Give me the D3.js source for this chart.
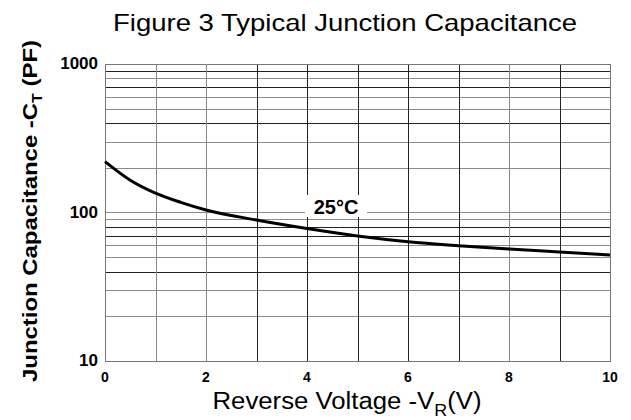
<!DOCTYPE html>
<html>
<head>
<meta charset="utf-8">
<script src="https://cdn.jsdelivr.net/npm/d3@7"></script>
<style>
  body { margin: 0; background: #fff; }
  text { font-family: "Liberation Sans", Arial, sans-serif; }
</style>
</head>
<body>
<div id="chart"></div>
<script>
// reverse voltage (V) and junction capacitance (pF)
const voltage = [0, 0.5, 1, 1.5, 2, 3, 4, 5, 6, 7, 8, 9, 10];
const capacitance = [220, 165, 135, 117, 104, 89, 78, 69.5, 63.6, 59.8, 56.8, 54.2, 51.7];
const xTicks = [0, 2, 4, 6, 8, 10];
const xGrid = [1, 2, 3, 4, 5, 6, 7, 8, 9];
const yTickLabels = [10, 100, 1000];
const yGrid = [20, 30, 40, 50, 60, 70, 80, 90, 100, 200, 300, 400, 500, 600, 700, 800, 900];

const width = 631;
const height = 420;
const margin = { top: 64, right: 21, bottom: 59, left: 105 };

const svg = d3.select("#chart")
    .append("svg")
    .attr("width", width)
    .attr("height", height);

const x = d3.scaleLinear()
    .domain([0, 10])
    .range([margin.left, width - margin.right]);

const y = d3.scaleLog()
    .domain([10, 1000])
    .range([height - margin.bottom, margin.top]);

// horizontal grid, some lines darker like the scanned original
svg.append("g")
    .selectAll("line")
    .data(yGrid)
    .enter()
    .append("line")
    .attr("x1", x(0))
    .attr("x2", x(10))
    .attr("y1", d => Math.round(y(d)) + 0.5)
    .attr("y2", d => Math.round(y(d)) + 0.5)
    .attr("stroke", d => [40, 70, 80, 400, 700, 900].includes(d) ? "#222" : "#8a8a8a")
    .attr("stroke-width", 1);

// vertical grid
svg.append("g")
    .selectAll("line")
    .data(xGrid)
    .enter()
    .append("line")
    .attr("y1", y(10))
    .attr("y2", y(1000))
    .attr("x1", d => Math.round(x(d)) + 0.5)
    .attr("x2", d => Math.round(x(d)) + 0.5)
    .attr("stroke", d => [1, 2, 8].includes(d) ? "#888" : "#222")
    .attr("stroke-width", 1);

// frame
svg.append("rect")
    .attr("x", x(0) + 0.5)
    .attr("y", y(1000) + 0.5)
    .attr("width", x(10) - x(0))
    .attr("height", y(10) - y(1000))
    .attr("fill", "none")
    .attr("stroke", "#777")
    .attr("stroke-width", 1);

// label box for temperature
svg.append("rect")
    .attr("x", 305)
    .attr("y", 195)
    .attr("width", 62)
    .attr("height", 22)
    .attr("fill", "#fff");

svg.append("text")
    .attr("x", 336)
    .attr("y", 214)
    .attr("text-anchor", "middle")
    .attr("font-size", 20)
    .attr("font-weight", "bold")
    .text("25°C");

// the curve
const line = d3.line()
    .x((d, i) => x(voltage[i]))
    .y(d => y(d))
    .curve(d3.curveMonotoneX);

svg.append("path")
    .datum(capacitance)
    .attr("d", line)
    .attr("fill", "none")
    .attr("stroke", "#000")
    .attr("stroke-width", 3);

// x tick labels
svg.append("g")
    .selectAll("text")
    .data(xTicks)
    .enter()
    .append("text")
    .attr("x", d => x(d))
    .attr("y", y(10) + 21)
    .attr("text-anchor", "middle")
    .attr("font-size", 14)
    .attr("font-weight", "bold")
    .text(d => d);

// y tick labels
svg.append("g")
    .selectAll("text")
    .data(yTickLabels)
    .enter()
    .append("text")
    .attr("x", x(0) - 7)
    .attr("y", d => y(d) + 5)
    .attr("text-anchor", "end")
    .attr("font-size", 17)
    .attr("font-weight", "bold")
    .text(d => d);

// title
svg.append("text")
    .attr("x", 345)
    .attr("y", 31)
    .attr("text-anchor", "middle")
    .attr("font-size", 24)
    .attr("textLength", 464)
    .attr("lengthAdjust", "spacingAndGlyphs")
    .text("Figure 3 Typical Junction Capacitance");

// x axis title
const xTitle = svg.append("text")
    .attr("x", 347)
    .attr("y", 409)
    .attr("text-anchor", "middle")
    .attr("font-size", 23)
    .attr("textLength", 269)
    .attr("lengthAdjust", "spacingAndGlyphs");
xTitle.append("tspan").text("Reverse Voltage -V");
xTitle.append("tspan").attr("font-size", 16).attr("dy", 7).text("R");
xTitle.append("tspan").attr("dy", -7).text("(V)");

// y axis title
const yTitle = svg.append("text")
    .attr("transform", "translate(37,211) rotate(-90)")
    .attr("text-anchor", "middle")
    .attr("font-size", 21)
    .attr("font-weight", "bold")
    .attr("textLength", 342)
    .attr("lengthAdjust", "spacingAndGlyphs");
yTitle.append("tspan").text("Junction Capacitance -C");
yTitle.append("tspan").attr("font-size", 14).attr("dy", 5).text("T");
yTitle.append("tspan").attr("dy", -5).text(" (PF)");
</script>
</body>
</html>
